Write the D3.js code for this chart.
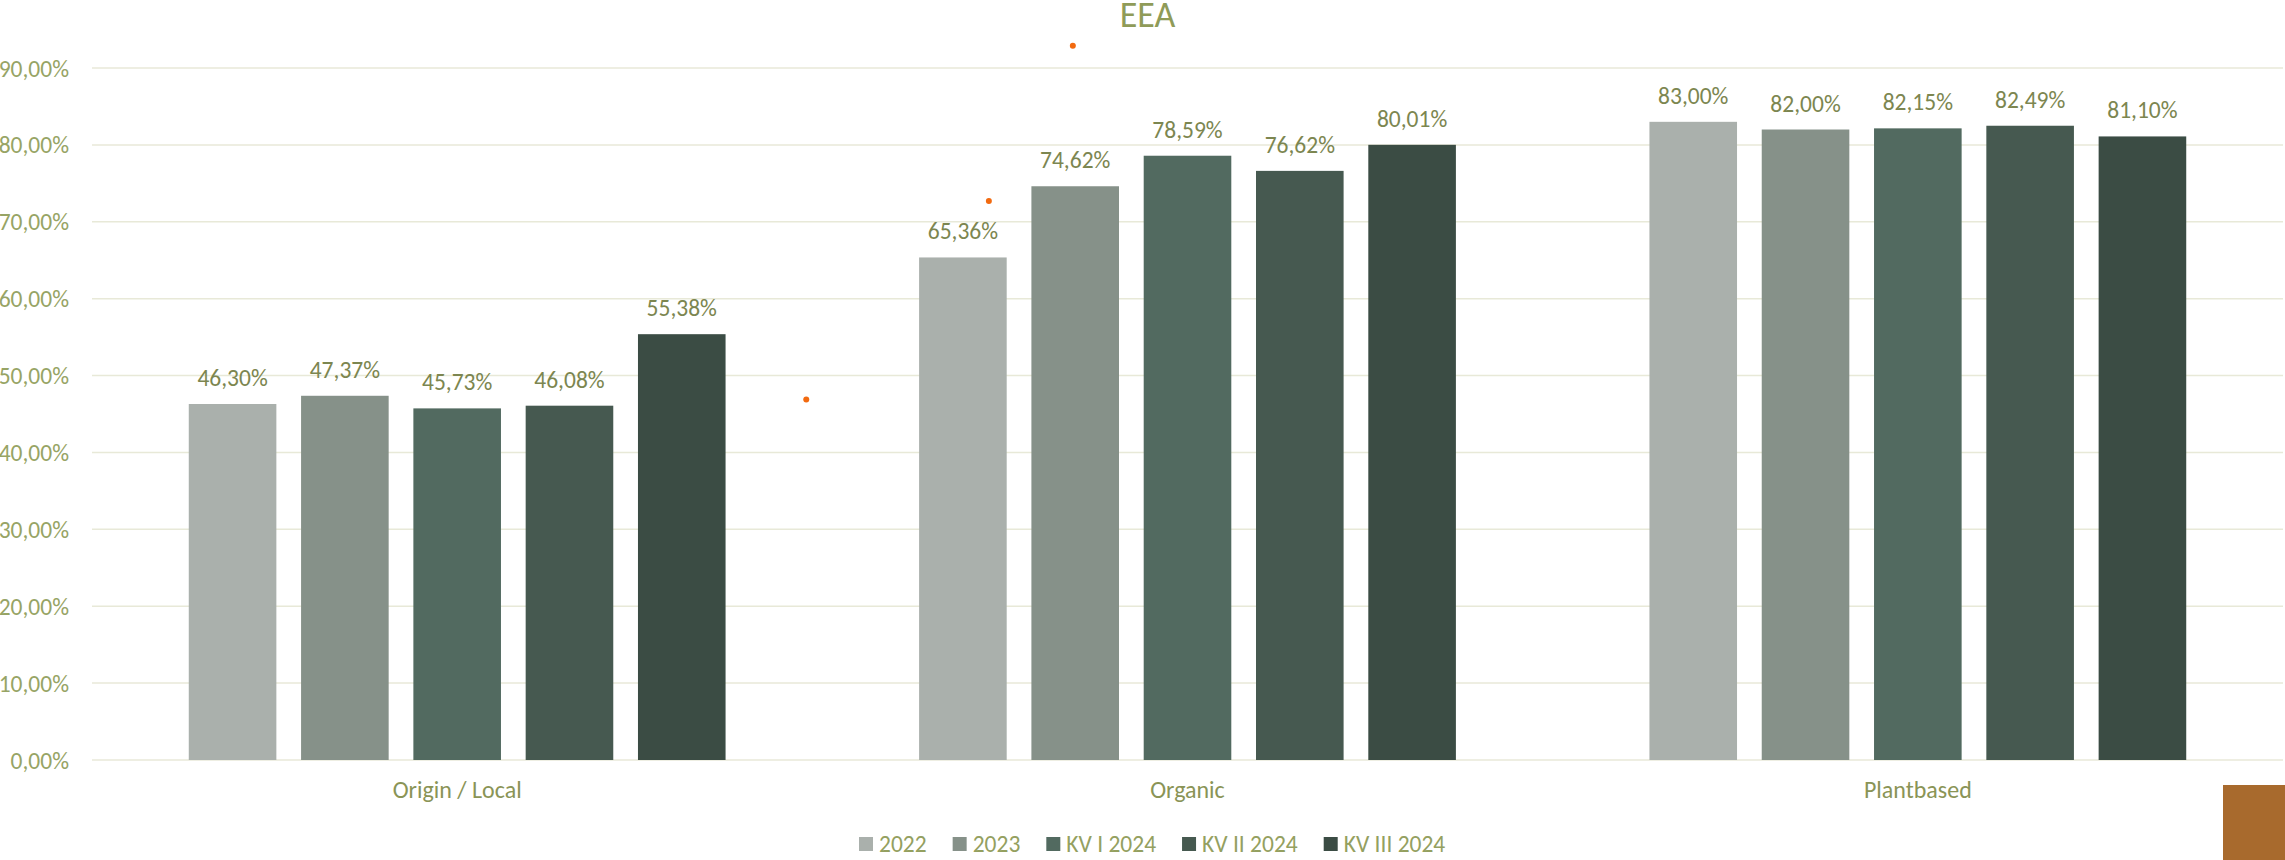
<!DOCTYPE html>
<html>
<head>
<meta charset="utf-8">
<script src="https://cdn.jsdelivr.net/npm/d3@7"></script>
<style>
  body { margin: 0; background: #fff; }
  svg text { font-family: Carlito, Lato, sans-serif; }
</style>
</head>
<body>
<svg id="chart" width="2285" height="860"></svg>
<script>
const categories = ['Origin / Local', 'Organic', 'Plantbased'];
const seriesNames = ['2022', '2023', 'KV I 2024', 'KV II 2024', 'KV III 2024'];
const values = [
    [46.30, 47.37, 45.73, 46.08, 55.38],
    [65.36, 74.62, 78.59, 76.62, 80.01],
    [83.00, 82.00, 82.15, 82.49, 81.10]
];
const yTicks = [0, 10, 20, 30, 40, 50, 60, 70, 80, 90];
const colors = ['#aab0ac', '#869189', '#526a60', '#465950', '#3b4c44'];
// stray orange markers seen in the picture (category position, value)
const markers = [
    { pos: 1.343, value: 92.9 },
    { pos: 1.228, value: 72.7 },
    { pos: 0.978, value: 46.9 }
];

const plotLeft = 92, plotRight = 2283, plotTop = 68, plotBottom = 760;
const FONT = 23.5;

const svg = d3.select('#chart');
const locale = d3.formatLocale({ decimal: ',', thousands: '.', grouping: [3], currency: ['', '€'] });
const fmt = v => locale.format('.2f')(v) + '%';

const x0 = d3.scaleBand().domain(categories).range([plotLeft, plotRight]).padding(0);
const groupWidth = x0.bandwidth() * 0.735;
const x1 = d3.scaleBand().domain(seriesNames).range([0, groupWidth]).paddingInner(0.22).paddingOuter(0);
const y = d3.scaleLinear().domain([0, 90]).range([plotBottom, plotTop]);
const xPos = d3.scaleLinear().domain([0, 3]).range([plotLeft, plotRight]);

// gridlines
svg.append('g').selectAll('line').data(yTicks).join('line')
    .attr('x1', plotLeft).attr('x2', plotRight)
    .attr('y1', d => y(d)).attr('y2', d => y(d))
    .attr('stroke', '#e8e9d8').attr('stroke-width', 1.5);

// y labels
svg.append('g').selectAll('text').data(yTicks).join('text')
    .attr('x', 69).attr('y', d => y(d) + 8.5)
    .attr('text-anchor', 'end')
    .attr('font-size', FONT)
    .attr('fill', '#97a465')
    .text(d => fmt(d));

// bars
const groups = svg.append('g').selectAll('g').data(categories).join('g')
    .attr('transform', d => `translate(${x0(d) + (x0.bandwidth() - groupWidth) / 2},0)`);

const rows = (d, i) => values[i].map((v, j) => ({ name: seriesNames[j], v, j }));

groups.selectAll('rect').data(rows).join('rect')
    .attr('x', d => x1(d.name))
    .attr('y', d => y(d.v))
    .attr('width', x1.bandwidth())
    .attr('height', d => y(0) - y(d.v))
    .attr('fill', d => colors[d.j]);

groups.selectAll('text').data(rows).join('text')
    .attr('x', d => x1(d.name) + x1.bandwidth() / 2)
    .attr('y', d => y(d.v) - 18)
    .attr('text-anchor', 'middle')
    .attr('font-size', FONT)
    .attr('fill', '#7c8650')
    .text(d => fmt(d.v));

// category labels
svg.append('g').selectAll('text').data(categories).join('text')
    .attr('x', d => x0(d) + x0.bandwidth() / 2)
    .attr('y', 798)
    .attr('text-anchor', 'middle')
    .attr('font-size', 24)
    .attr('fill', '#8a9456')
    .text(d => d);

// orange markers
svg.append('g').selectAll('circle').data(markers).join('circle')
    .attr('cx', d => xPos(d.pos)).attr('cy', d => y(d.value))
    .attr('r', 3).attr('fill', '#f26a10');

// title
svg.append('text')
    .attr('x', 1147.5).attr('y', 27)
    .attr('text-anchor', 'middle')
    .attr('font-size', 36)
    .attr('fill', '#8f9b58')
    .text('EEA');

// legend: laid out left to right from measured text widths
const legend = svg.append('g').selectAll('g').data(seriesNames).join('g');
legend.append('rect').attr('y', 837).attr('width', 14).attr('height', 14).attr('fill', (d, i) => colors[i]);
legend.append('text')
    .attr('x', 20).attr('y', 852)
    .attr('font-size', FONT)
    .attr('fill', '#94a060')
    .text(d => d);
let lx = 859;
legend.each(function () {
    const g = d3.select(this);
    g.attr('transform', `translate(${lx},0)`);
    lx += 20 + g.select('text').node().getComputedTextLength() + 26;
});

// corner block
svg.append('rect').attr('x', 2223).attr('y', 785).attr('width', 62).attr('height', 75).attr('fill', '#a86a2d');
</script>
</body>
</html>
